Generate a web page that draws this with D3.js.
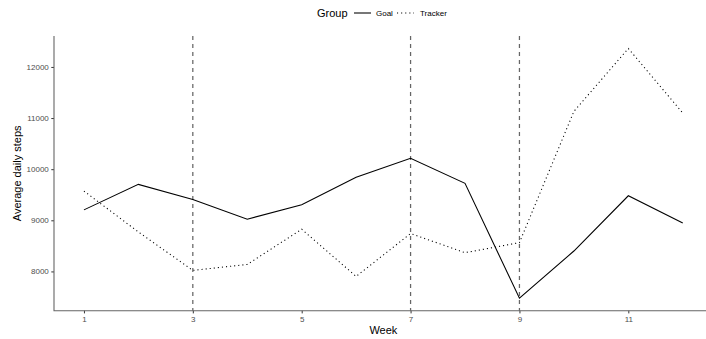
<!DOCTYPE html>
<html>
<head>
<meta charset="utf-8">
<script src="https://cdn.jsdelivr.net/npm/d3@7"></script>
<style>
  html, body { margin: 0; padding: 0; background: #fff; }
  svg { display: block; font-family: "Liberation Sans", Arial, sans-serif; }
</style>
</head>
<body>
<svg id="chart" width="706" height="339"></svg>
<script>
// Weekly average daily steps for two groups
const weeks = [1, 2, 3, 4, 5, 6, 7, 8, 9, 10, 11, 12];
const goalSteps = [9204, 9703, 9409, 9022, 9303, 9841, 10214, 9723, 7476, 8399, 9480, 8949];
const trackerSteps = [9572, 8772, 8020, 8137, 8825, 7902, 8741, 8367, 8564, 11130, 12361, 11098];
const groups = ["Goal", "Tracker"];
const markerWeeks = [3, 7, 9];
const xTicks = [1, 3, 5, 7, 9, 11];
const yTicks = [8000, 9000, 10000, 11000, 12000];

const series = [
  { name: groups[0], values: goalSteps, dash: null },
  { name: groups[1], values: trackerSteps, dash: "1.1,3" }
];

const svg = d3.select("#chart");
const panel = { left: 54, right: 712.7, top: 36, bottom: 310.7 };

// continuous scales with 5% padding on each side of the data range
function padded(extent) {
  const pad = (extent[1] - extent[0]) * 0.05;
  return [extent[0] - pad, extent[1] + pad];
}
const allSteps = goalSteps.concat(trackerSteps);
const x = d3.scaleLinear().domain(padded(d3.extent(weeks))).range([panel.left, panel.right]);
const y = d3.scaleLinear().domain(padded(d3.extent(allSteps))).range([panel.bottom, panel.top]);

// vertical reference lines
svg.append("g").selectAll("line").data(markerWeeks).join("line")
  .attr("x1", d => x(d)).attr("x2", d => x(d))
  .attr("y1", panel.top).attr("y2", panel.bottom)
  .attr("stroke", "#666").attr("stroke-width", 1.25)
  .attr("stroke-dasharray", "4,4");

// series lines
const line = d3.line().x((d, i) => x(weeks[i])).y(d => y(d));
svg.append("g").selectAll("path").data(series).join("path")
  .attr("d", d => line(d.values))
  .attr("fill", "none")
  .attr("stroke", "#000")
  .attr("stroke-width", 1.07)
  .attr("stroke-dasharray", d => d.dash);

// axes
const axisColor = "#666";
const xAxis = svg.append("g").attr("transform", `translate(0,${panel.bottom})`)
  .call(d3.axisBottom(x).tickValues(xTicks).tickSize(2.7).tickPadding(2.5).tickFormat(d3.format("d")));
const yAxis = svg.append("g").attr("transform", `translate(${panel.left},0)`)
  .call(d3.axisLeft(y).tickValues(yTicks).tickSize(2.7).tickPadding(2.5).tickFormat(d3.format("d")));
[xAxis, yAxis].forEach(g => {
  g.select(".domain").remove();
  g.selectAll(".tick line").attr("stroke", "#333").attr("stroke-width", 1);
  g.selectAll(".tick text").attr("fill", "#4d4d4d").style("font-size", "8px")
    .style("font-family", "'Liberation Sans', Arial, sans-serif");
});
svg.append("path")
  .attr("d", `M${panel.left},${panel.top}V${panel.bottom}H${706}`)
  .attr("fill", "none").attr("stroke", axisColor).attr("stroke-width", 1.1);

// axis titles
svg.append("text").attr("x", (panel.left + panel.right) / 2).attr("y", 334)
  .attr("text-anchor", "middle").style("font-size", "11px").attr("fill", "#000").text("Week");
svg.append("text").attr("transform", `translate(21,${(panel.top + panel.bottom) / 2}) rotate(-90)`)
  .attr("text-anchor", "middle").style("font-size", "11px").attr("fill", "#000").text("Average daily steps");

// legend
const legend = svg.append("g");
legend.append("text").attr("x", 317).attr("y", 17).style("font-size", "11px").attr("fill", "#000").text("Group");
const keyX = [354, 397];
const labelX = [376, 420];
series.forEach((s, i) => {
  legend.append("line").attr("x1", keyX[i]).attr("x2", keyX[i] + 17).attr("y1", 13).attr("y2", 13)
    .attr("stroke", "#000").attr("stroke-width", 1.07).attr("stroke-dasharray", s.dash);
  legend.append("text").attr("x", labelX[i]).attr("y", 16).style("font-size", "8px").attr("fill", "#000").text(s.name);
});
</script>
</body>
</html>
